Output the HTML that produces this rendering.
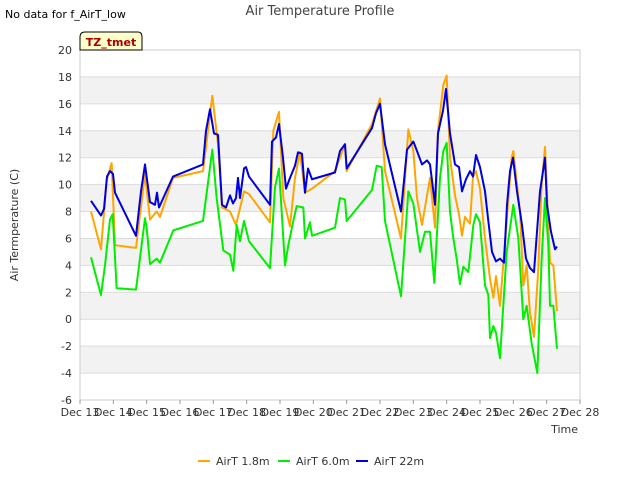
<!DOCTYPE html>
<html><head><meta charset="utf-8"><style>
body{margin:0;background:#fff;font-family:"Liberation Sans",sans-serif;}
svg text{font-family:"DejaVu Sans","Liberation Sans",sans-serif;}
</style></head><body>
<svg id="c" width="640" height="480"></svg>
<script>
const xTicks=["Dec 13","Dec 14","Dec 15","Dec 16","Dec 17","Dec 18","Dec 19","Dec 20","Dec 21","Dec 22","Dec 23","Dec 24","Dec 25","Dec 26","Dec 27","Dec 28"];
const yTicks=[-6,-4,-2,0,2,4,6,8,10,12,14,16,18,20];
const seriesNames=["AirT 1.8m","AirT 6.0m","AirT 22m"];
const seriesColors=["orange","#00ee00","#0000dd"];
const t18=[[0.33,8.0],[0.63,5.2],[0.8,10.3],[0.95,11.6],[1.05,5.5],[1.68,5.3],[1.95,10.8],[2.1,7.4],[2.3,8.0],[2.4,7.6],[2.79,10.5],[3.69,11.0],[3.97,16.6],[4.14,13.0],[4.26,8.3],[4.5,8.0],[4.68,7.0],[4.92,9.5],[5.07,9.3],[5.7,7.2],[5.8,14.0],[5.97,15.4],[6.1,9.0],[6.3,6.9],[6.45,10.5],[6.6,12.4],[6.75,9.4],[6.96,9.7],[7.65,11.0],[7.95,13.0],[8.0,11.0],[8.76,14.5],[9.0,16.4],[9.15,11.0],[9.63,6.0],[9.85,14.1],[10.0,12.5],[10.11,9.0],[10.26,7.0],[10.5,10.5],[10.65,6.8],[10.74,14.0],[10.9,17.4],[11.0,18.1],[11.1,12.0],[11.25,9.2],[11.37,7.8],[11.46,6.2],[11.55,7.6],[11.7,7.1],[11.79,10.6],[11.88,11.0],[12.0,9.7],[12.15,6.0],[12.3,3.0],[12.4,1.6],[12.48,3.2],[12.6,1.0],[12.95,12.0],[13.0,12.5],[13.2,8.0],[13.3,2.5],[13.4,4.0],[13.5,0.5],[13.62,-1.3],[13.75,3.8],[13.85,10.0],[13.95,12.8],[14.1,4.2],[14.2,4.0],[14.31,0.6]];
const t60=[[0.33,4.6],[0.63,1.8],[0.75,4.0],[0.9,7.4],[0.98,7.8],[1.1,2.3],[1.68,2.2],[1.95,7.5],[2.0,6.8],[2.1,4.1],[2.3,4.5],[2.4,4.2],[2.8,6.6],[3.69,7.3],[3.97,12.6],[4.1,9.0],[4.3,5.1],[4.5,4.8],[4.6,3.6],[4.7,7.0],[4.8,5.8],[4.92,7.3],[5.07,5.8],[5.7,3.8],[5.85,9.8],[5.97,11.2],[6.15,4.0],[6.25,5.5],[6.4,7.3],[6.5,8.4],[6.7,8.3],[6.75,6.0],[6.9,7.2],[6.96,6.2],[7.65,6.8],[7.8,9.0],[7.95,8.9],[8.0,7.3],[8.76,9.6],[8.9,11.4],[9.05,11.3],[9.15,7.3],[9.63,1.7],[9.85,9.5],[10.0,8.6],[10.2,5.0],[10.35,6.5],[10.5,6.5],[10.63,2.7],[10.8,10.5],[10.9,12.5],[11.0,13.1],[11.1,8.0],[11.2,6.0],[11.3,4.5],[11.4,2.6],[11.5,3.9],[11.65,3.5],[11.8,7.0],[11.88,7.8],[12.0,7.2],[12.15,2.5],[12.25,1.8],[12.3,-1.4],[12.4,-0.5],[12.48,-1.0],[12.6,-2.9],[12.8,5.0],[13.0,8.5],[13.15,6.0],[13.3,0.0],[13.4,1.0],[13.55,-1.8],[13.72,-4.0],[13.85,4.5],[13.95,9.0],[14.05,5.5],[14.1,1.0],[14.2,1.0],[14.31,-2.2]];
const t22=[[0.33,8.8],[0.63,7.7],[0.72,8.2],[0.81,10.6],[0.9,11.0],[0.99,10.8],[1.05,9.4],[1.68,6.2],[1.83,9.5],[1.95,11.5],[2.1,8.7],[2.25,8.5],[2.31,9.4],[2.37,8.3],[2.79,10.6],[3.69,11.5],[3.78,14.0],[3.9,15.6],[4.02,13.8],[4.14,13.7],[4.26,8.5],[4.38,8.3],[4.5,9.2],[4.59,8.6],[4.68,9.0],[4.74,10.5],[4.8,9.0],[4.92,11.2],[4.98,11.3],[5.07,10.6],[5.7,8.5],[5.76,13.2],[5.88,13.5],[5.97,14.5],[6.09,12.0],[6.18,9.7],[6.3,10.5],[6.45,11.4],[6.54,12.4],[6.66,12.3],[6.75,9.4],[6.84,11.2],[6.96,10.4],[7.65,10.9],[7.8,12.5],[7.95,13.0],[8.0,11.2],[8.76,14.2],[8.88,15.3],[9.0,16.0],[9.15,13.0],[9.63,8.0],[9.81,12.6],[10.0,13.2],[10.11,12.5],[10.26,11.5],[10.41,11.8],[10.5,11.5],[10.65,8.5],[10.74,13.8],[10.89,15.5],[10.98,17.1],[11.1,13.8],[11.25,11.5],[11.37,11.3],[11.46,9.5],[11.58,10.4],[11.7,11.0],[11.79,10.6],[11.88,12.2],[12.0,11.3],[12.15,9.5],[12.24,7.5],[12.36,5.0],[12.48,4.3],[12.6,4.5],[12.72,4.2],[12.81,8.5],[12.9,11.0],[12.99,12.0],[13.11,9.5],[13.26,7.0],[13.38,4.5],[13.5,3.8],[13.62,3.5],[13.71,6.5],[13.8,9.5],[13.95,12.0],[14.01,8.5],[14.13,6.5],[14.25,5.2],[14.31,5.4]];
const allSeries=[t18,t60,t22];
const NS="http://www.w3.org/2000/svg";
const svg=document.getElementById('c');
const L=80,R=580,T=50,B=400;
const xs=d=>L+d*(R-L)/15;
const ys=v=>B-(v+6)*(B-T)/26;
function mk(tag,attrs,parent){const e=document.createElementNS(NS,tag);for(const k in attrs)e.setAttribute(k,attrs[k]);(parent||svg).appendChild(e);return e;}
// bands
for(let i=0;i<yTicks.length-1;i++){
  if(i%2===1){const r=mk('rect',{x:L,y:ys(yTicks[i+1]),width:R-L,height:ys(yTicks[i])-ys(yTicks[i+1]),fill:'#f2f2f2'});
  
  }
}
yTicks.forEach(v=>{
  const g=mk('line',{x1:L,x2:R,y1:ys(v),y2:ys(v),stroke:'#dcdcdc','stroke-width':1});
  
  
  const t=mk('text',{x:L-8,y:ys(v)+4,'text-anchor':'end','font-size':11,fill:'#333'});t.textContent=v;
  
  
});
const fr=mk('rect',{x:L,y:T,width:R-L,height:B-T,fill:'none',stroke:'#ccc'});


xTicks.forEach((s,i)=>{
  mk('line',{x1:xs(i),x2:xs(i),y1:B,y2:B+4,stroke:'#999'});
  const t=mk('text',{x:xs(i),y:B+16,'text-anchor':'middle','font-size':11,fill:'#333'});t.textContent=s;
  
  
});
allSeries.forEach((s,i)=>{
  const p=mk('polyline',{points:s.map(d=>xs(d[0])+','+ys(d[1])).join(' '),fill:'none',stroke:seriesColors[i],'stroke-width':2,'stroke-linejoin':'round'});
  
  
});
function txt(x,y,s,size,name,anchor,extra){const t=mk('text',Object.assign({x:x,y:y,'font-size':size,fill:'#333','text-anchor':anchor||'start'},extra||{}));t.textContent=s;

return t;}
txt(320,15,'Air Temperature Profile',13,'chart-title','middle',{fill:'#444'});
txt(5,18,'No data for f_AirT_low',11,'no-data-note','start',{fill:'#000'});
txt(578,433,'Time',11,'x-axis-title','end');
txt(18,225,'Air Termperature (C)',11,'y-axis-title','middle',{transform:'rotate(-90 18 225)'});
const tb=mk('path',{d:'M80,50 V37 Q80,32 85,32 H138 Q142,32 142,37 V50 Z',fill:'#ffffcc',stroke:'#000'});


txt(111,46,'TZ_tmet',11,'tz-badge-label','middle',{fill:'#aa0000','font-weight':'bold'});
const lx=[198,278,356];
seriesNames.forEach((n,i)=>{
  const l=mk('line',{x1:lx[i],x2:lx[i]+12,y1:461,y2:461,stroke:seriesColors[i],'stroke-width':2});
  
  
  txt(lx[i]+18,465,n,11,'legend-entry');
});
</script>
</body></html>
